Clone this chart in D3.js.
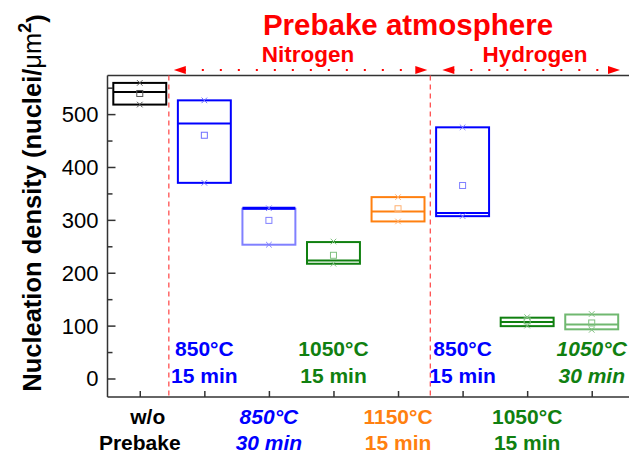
<!DOCTYPE html>
<meta charset="utf-8">
<script src="https://cdn.jsdelivr.net/npm/d3@7"></script>
<style>
  body { margin: 0; background: #fff; }
  text { font-family: "Liberation Sans", Arial, sans-serif; }
</style>
<svg id="graph" width="629" height="454"></svg>
<script>

// box statistics, one entry per prebake condition (nuclei/um^2)
var categories = ["w/o Prebake", "N2 850°C 15 min", "N2 850°C 30 min", "N2 1050°C 15 min",
                  "N2 1150°C 15 min", "H2 850°C 15 min", "H2 1050°C 15 min", "H2 1050°C 30 min"];
var boxTop    = [559, 526, 321, 258, 343, 475, 115, 121];
var boxMedian = [542, 482, 322, 223, 316, 313, 107, 102];
var boxBottom = [518, 370, 253, 217, 297, 307, 99, 93];
var boxMean   = [539, 460, 299, 233, 321, 365, 109, 105];
var boxMax    = [559, 526, 322, 259, 343, 475, 116, 122];
var boxMin    = [518, 370, 253, 217, 297, 307, 100, 92];

var yTicks = [0, 100, 200, 300, 400, 500];
var yMinorTicks = [50, 150, 250, 350, 450, 550];

// labels inside the plot (top row) and under the axis (bottom row)
var insideLabels = [
  {pos: 2, l1: "850°C", l2: "15 min", c: "#0000ff", it: false},
  {pos: 4, l1: "1050°C", l2: "15 min", c: "#108010", it: false},
  {pos: 6, l1: "850°C", l2: "15 min", c: "#0000ff", it: false},
  {pos: 8, l1: "1050°C", l2: "30 min", c: "#108010", it: true}
];
var belowLabels = [
  {pos: 1, l1: "w/o", l2: "Prebake", c: "#000", it: false},
  {pos: 3, l1: "850°C", l2: "30 min", c: "#0000ff", it: true},
  {pos: 5, l1: "1150°C", l2: "15 min", c: "#ff8010", it: false},
  {pos: 7, l1: "1050°C", l2: "15 min", c: "#108010", it: false}
];

var gasNames = ["Nitrogen", "Hydrogen"];
var gasSpans = [[1.45, 5.5], [5.5, 8.5]];   // in category units
var dividers = [1.45, 5.5];

// styling per box
var boxStroke  = ["#000", "#0000ff", "#8080ff", "#108010", "#ff8010", "#0000ff", "#108010", "#70b870"];
var medStroke  = ["#000", "#0000ff", "#0000ff", "#108010", "#ff8010", "#0000ff", "#108010", "#70b870"];
var markColor  = ["#555", "#6f6fff", "#8080ff", "#80c080", "#ffb070", "#8080ff", "#80c080", "#80c080"];

var svg = d3.select("#graph"),
    W = +svg.attr("width"),
    plotLeft = 107.5, plotTop = 75.5, plotBottom = 397;

var x = d3.scaleLinear().domain([0.5, 8.5]).range([plotLeft, 624]);
var y = d3.scaleLinear().domain([-35, 573]).range([plotBottom, plotTop]);

var red = "#ff0000";

// axes frame (left, top, bottom; the right side is cut off)
svg.append("line").attr("x1", plotLeft).attr("x2", W).attr("y1", plotTop).attr("y2", plotTop)
   .attr("stroke", "#333").attr("stroke-width", 1.5);
svg.append("line").attr("x1", plotLeft).attr("x2", W).attr("y1", plotBottom).attr("y2", plotBottom)
   .attr("stroke", "#333").attr("stroke-width", 1.5);
svg.append("line").attr("x1", plotLeft).attr("x2", plotLeft).attr("y1", plotTop).attr("y2", plotBottom)
   .attr("stroke", "#333").attr("stroke-width", 1.5);

// y axis
var yAxis = svg.append("g")
    .attr("transform", "translate(" + plotLeft + ",0)")
    .call(d3.axisRight(y).tickValues(yTicks).tickSize(8).tickFormat(""));
yAxis.select(".domain").remove();
yAxis.selectAll("line").attr("stroke", "#333").attr("stroke-width", 1.5);

var yMinor = svg.append("g")
    .attr("transform", "translate(" + plotLeft + ",0)")
    .call(d3.axisRight(y).tickValues(yMinorTicks).tickSize(5).tickFormat(""));
yMinor.select(".domain").remove();
yMinor.selectAll("line").attr("stroke", "#333").attr("stroke-width", 1.5);

svg.append("g").selectAll("text")
  .data(yTicks).enter().append("text")
    .attr("x", plotLeft - 9)
    .attr("y", function(d) { return y(d); })
    .attr("dy", "0.36em")
    .attr("text-anchor", "end")
    .style("font-size", "22px")
    .text(function(d) { return d; });

// x axis ticks (inward)
var xAxis = svg.append("g")
    .attr("transform", "translate(0," + plotBottom + ")")
    .call(d3.axisTop(x).tickValues(d3.range(1, 9)).tickSize(6).tickFormat(""));
xAxis.select(".domain").remove();
xAxis.selectAll("line").attr("stroke", "#333").attr("stroke-width", 1.5);

// y axis title
var yt = svg.append("text")
    .attr("transform", "translate(41,203) rotate(-90)")
    .attr("text-anchor", "middle")
    .style("font-size", "25.5px")
    .style("font-weight", "bold");
yt.append("tspan").text("Nucleation density (nuclei/");
yt.append("tspan").style("font-weight", "normal").text("μm");
yt.append("tspan").attr("dy", "-0.55em").style("font-size", "18px").text("2");
yt.append("tspan").attr("dy", "0.55em").text(")");

// red divider lines
svg.selectAll(".divider")
  .data(dividers).enter().append("line")
    .attr("class", "divider")
    .attr("x1", function(d) { return x(d); })
    .attr("x2", function(d) { return x(d); })
    .attr("y1", plotTop).attr("y2", plotBottom)
    .attr("stroke", "#ff5050").attr("stroke-width", 1.3)
    .attr("stroke-dasharray", "5,4");

// boxes
var idx = d3.range(categories.length);
var bw = 0.41; // box half width in category units

var boxes = svg.append("g").selectAll("g")
  .data(idx).enter().append("g");

boxes.append("rect")
    .attr("x", function(i) { return x(i + 1 - bw); })
    .attr("width", function(i) { return x(i + 1 + bw) - x(i + 1 - bw); })
    .attr("y", function(i) { return y(boxTop[i]); })
    .attr("height", function(i) { return y(boxBottom[i]) - y(boxTop[i]); })
    .attr("fill", "none")
    .attr("stroke", function(i) { return boxStroke[i]; })
    .attr("stroke-width", 2);

boxes.append("line")
    .attr("x1", function(i) { return x(i + 1 - bw); })
    .attr("x2", function(i) { return x(i + 1 + bw); })
    .attr("y1", function(i) { return y(boxMedian[i]); })
    .attr("y2", function(i) { return y(boxMedian[i]); })
    .attr("stroke", function(i) { return medStroke[i]; })
    .attr("stroke-width", function(i) { return i === 2 ? 3 : 2; });

// mean squares
boxes.append("rect")
    .attr("x", function(i) { return x(i + 1) - 3; })
    .attr("y", function(i) { return y(boxMean[i]) - 3; })
    .attr("width", 6).attr("height", 6)
    .attr("fill", "none")
    .attr("stroke", function(i) { return markColor[i]; })
    .attr("stroke-width", 1);

// min / max crosses
var cross = d3.symbol().type(d3.symbolX).size(22);
[boxMax, boxMin].forEach(function(arr) {
  boxes.append("path")
      .attr("d", cross)
      .attr("transform", function(i) { return "translate(" + x(i + 1) + "," + y(arr[i]) + ")"; })
      .attr("fill", "none")
      .attr("stroke", function(i) { return markColor[i]; })
      .attr("stroke-width", 1);
});

// condition labels
function drawLabels(list, y1, y2) {
  var g = svg.append("g").selectAll("g").data(list).enter().append("g");
  [["l1", y1], ["l2", y2]].forEach(function(p) {
    g.append("text")
        .attr("x", function(d) { return x(d.pos) + (d.l1 === "w/o" && p[0] === "l1" ? 8 : 0); })
        .attr("y", p[1])
        .attr("text-anchor", "middle")
        .style("font-size", "21px")
        .style("font-weight", "bold")
        .style("font-style", function(d) { return d.it ? "italic" : "normal"; })
        .attr("fill", function(d) { return d.c; })
        .text(function(d) { return d[p[0]]; });
  });
}
drawLabels(insideLabels, 356, 383);
drawLabels(belowLabels, 424, 450);

// title and gas annotations
svg.append("text")
    .attr("x", 408).attr("y", 35)
    .attr("text-anchor", "middle")
    .attr("fill", red)
    .style("font-size", "29.5px")
    .style("font-weight", "bold")
    .text("Prebake atmosphere");

var arrowY = 70;
gasNames.forEach(function(name, k) {
  var x0 = x(gasSpans[k][0]) + 5, x1 = Math.min(x(gasSpans[k][1]), W - 6) - 3;
  if (k === 1) { x0 = x(gasSpans[k][0]) + 12; }
  svg.append("text")
      .attr("x", k === 0 ? 308 : 535).attr("y", 62)
      .attr("text-anchor", "middle")
      .attr("fill", red)
      .style("font-size", "22.5px")
      .style("font-weight", "bold")
      .text(name);
  svg.append("line")
      .attr("x1", x0 + 10).attr("x2", x1 - 10)
      .attr("y1", arrowY).attr("y2", arrowY)
      .attr("stroke", red).attr("stroke-width", 2)
      .attr("stroke-dasharray", "2,16");
  svg.append("path")
      .attr("d", "M" + x0 + "," + arrowY + "l12,-4v8z")
      .attr("fill", red);
  svg.append("path")
      .attr("d", "M" + x1 + "," + arrowY + "l-12,-4v8z")
      .attr("fill", red);
});

</script>
